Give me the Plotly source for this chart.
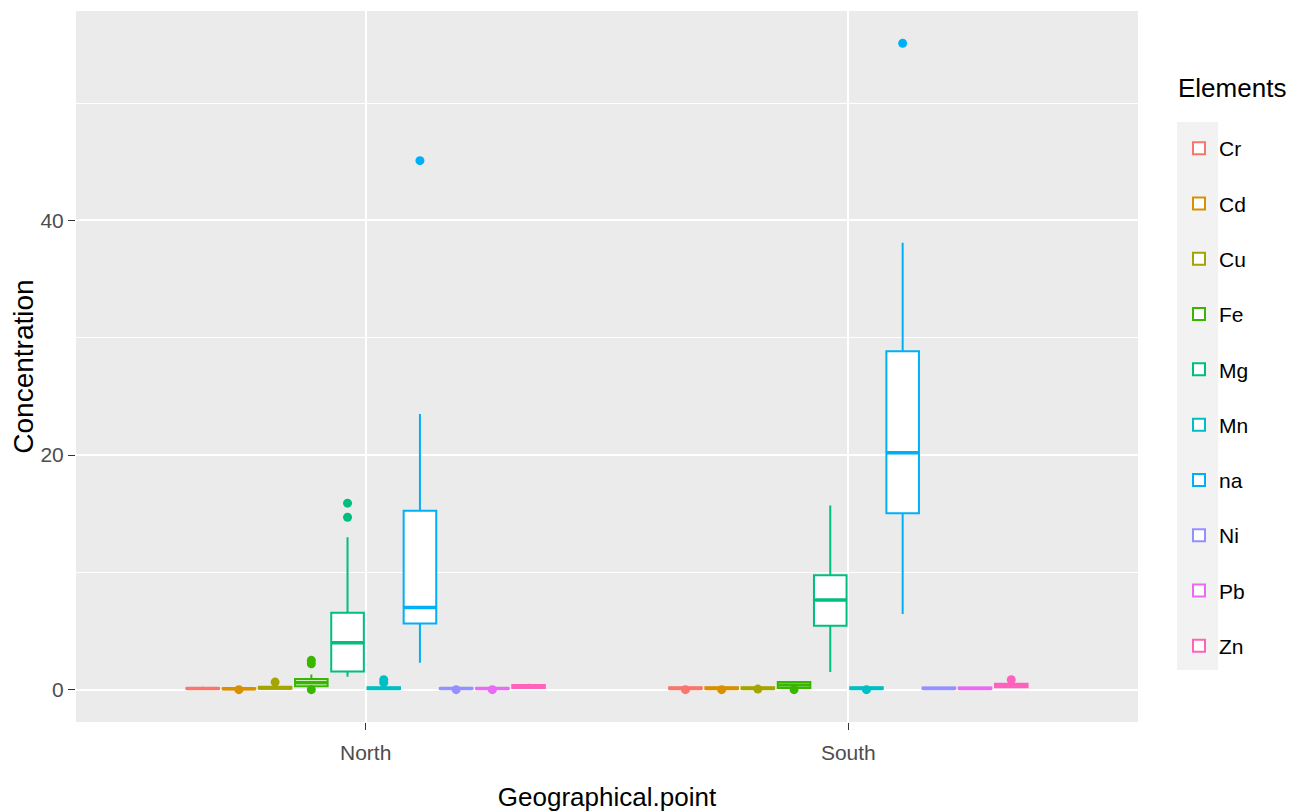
import plotly.graph_objects as go

# ---------------- data ----------------
elements = ["Cr", "Cd", "Cu", "Fe", "Mg", "Mn", "na", "Ni", "Pb", "Zn"]
locations = ["North", "South"]

# North statistics (per element, same order as `elements`)
north_lower = [0.02, 0.02, 0.02, 0.10, 1.10, 0.02, 2.30, 0.02, 0.02, 0.10]
north_q1 = [0.05, 0.04, 0.08, 0.30, 1.55, 0.05, 5.65, 0.06, 0.05, 0.15]
north_median = [0.10, 0.08, 0.15, 0.60, 4.00, 0.10, 7.00, 0.10, 0.10, 0.25]
north_q3 = [0.15, 0.12, 0.25, 0.90, 6.55, 0.20, 15.25, 0.15, 0.15, 0.40]
north_upper = [0.25, 0.20, 0.40, 1.30, 13.00, 0.35, 23.50, 0.20, 0.20, 0.50]
north_outliers = [[], [0.0], [0.65], [2.2, 2.5, 0.0], [14.7, 15.9], [0.6, 0.85],
                  [45.1], [0.0], [0.0], []]

# South statistics
south_lower = [0.02, 0.02, 0.02, 0.05, 1.50, 0.02, 6.45, 0.02, 0.02, 0.15]
south_q1 = [0.05, 0.05, 0.05, 0.15, 5.45, 0.05, 15.05, 0.05, 0.05, 0.20]
south_median = [0.10, 0.10, 0.10, 0.40, 7.65, 0.10, 20.20, 0.10, 0.10, 0.35]
south_q3 = [0.20, 0.20, 0.20, 0.65, 9.75, 0.20, 28.85, 0.18, 0.18, 0.50]
south_upper = [0.25, 0.25, 0.25, 0.70, 15.70, 0.25, 38.10, 0.22, 0.22, 0.60]
south_outliers = [[0.0], [0.0], [0.05], [0.0], [], [0.0], [55.1], [], [], [0.85]]

y_ticks = [0, 20, 40]
y_minor = [10, 30, 50]

colors = ["#F8766D", "#D89000", "#A3A500", "#39B600", "#00BF7D",
          "#00BFC4", "#00B0F6", "#9590FF", "#E76BF3", "#FF62BC"]

# ---------------- layout helpers ----------------
n = len(elements)
group_width = 0.75
slot = group_width / n
box_w = slot * 0.9
loc_pos = [i + 1 for i in range(len(locations))]

font = "Liberation Sans, Arial, sans-serif"

# figure is placed in the page with the default 8px body margin
W, H = 1295, 804
L, R, T, B = 68, 165, 3, 90
pw, ph = W - L - R, H - T - B


def px_x(page_x):
    return (page_x - 8 - L) / pw


def px_y(page_y):
    return (H - B - (page_y - 8)) / ph


fig = go.Figure()

all_vals = []
for i, el in enumerate(elements):
    off = (i - (n - 1) / 2) * slot
    xs = [p + off for p in loc_pos]
    q1 = [north_q1[i], south_q1[i]]
    med = [north_median[i], south_median[i]]
    q3 = [north_q3[i], south_q3[i]]
    lo = [north_lower[i], south_lower[i]]
    hi = [north_upper[i], south_upper[i]]
    outs = [north_outliers[i], south_outliers[i]]
    all_vals += q1 + med + q3 + lo + hi + north_outliers[i] + south_outliers[i]

    fig.add_trace(go.Box(
        x=xs, q1=q1, median=med, q3=q3, lowerfence=lo, upperfence=hi,
        width=box_w, whiskerwidth=0, boxpoints=False,
        line=dict(color=colors[i], width=2), fillcolor="white",
        name=el, legendgroup=el, hoverinfo="skip",
    ))
    # thicker median line (as ggplot draws it)
    mx, my = [], []
    for x, m in zip(xs, med):
        mx += [x - box_w / 2, x + box_w / 2, None]
        my += [m, m, None]
    fig.add_trace(go.Scatter(
        x=mx, y=my, mode="lines", line=dict(color=colors[i], width=3.6),
        showlegend=False, legendgroup=el, hoverinfo="skip",
    ))
    # outliers
    ox, oy = [], []
    for x, o in zip(xs, outs):
        ox += [x] * len(o)
        oy += o
    if ox:
        fig.add_trace(go.Scatter(
            x=ox, y=oy, mode="markers",
            marker=dict(color=colors[i], size=9, line=dict(width=0)),
            showlegend=False, legendgroup=el, hoverinfo="skip",
        ))

ymin, ymax = min(all_vals), max(all_vals)
pad = (ymax - ymin) * 0.05

fig.update_layout(
    width=W, height=H,
    margin=dict(l=L, r=R, t=T, b=B, autoexpand=False),
    paper_bgcolor="white", plot_bgcolor="#EBEBEB",
    boxmode="overlay",
    showlegend=True,
    legend=dict(
        x=px_x(1179), xanchor="left", y=px_y(128), yanchor="top",
        font=dict(family=font, size=21, color="black"),
        tracegroupgap=25, traceorder="grouped", bgcolor="rgba(0,0,0,0)",
    ),
    annotations=[dict(
        text="Elements", xref="paper", yref="paper",
        x=px_x(1176), xanchor="left", y=px_y(88), yanchor="middle",
        showarrow=False, font=dict(family=font, size=26, color="black"),
    )],
    shapes=[dict(
        type="rect", xref="paper", yref="paper", layer="below",
        x0=px_x(1177), x1=px_x(1218), y0=px_y(670), y1=px_y(122),
        fillcolor="#F2F2F2", line=dict(width=0),
    )],
    xaxis=dict(
        range=[0.4, len(locations) + 0.6], automargin=False,
        tickmode="array", tickvals=loc_pos, ticktext=locations,
        showgrid=True, gridcolor="white", gridwidth=2, zeroline=False,
        ticks="outside", ticklen=7, tickwidth=1.2, tickcolor="#333333",
        ticklabelstandoff=5,
        tickfont=dict(family=font, size=21, color="#4D4D4D"),
        title=dict(text="Geographical.point", standoff=26,
                   font=dict(family=font, size=26, color="black")),
        showline=False,
    ),
    yaxis=dict(
        range=[ymin - pad, ymax + pad], automargin=False,
        tickmode="array", tickvals=y_ticks,
        showgrid=True, gridcolor="white", gridwidth=2, zeroline=False,
        ticks="outside", ticklen=7, tickwidth=1.2, tickcolor="#333333",
        tickfont=dict(family=font, size=21, color="#4D4D4D"),
        minor=dict(tickmode="array", tickvals=y_minor, showgrid=True,
                   gridcolor="white", gridwidth=1.2, ticks=""),
        title=dict(text="Concentration", standoff=0,
                   font=dict(family=font, size=28, color="black")),
        showline=False,
    ),
)

fig.write_html("out.html")
